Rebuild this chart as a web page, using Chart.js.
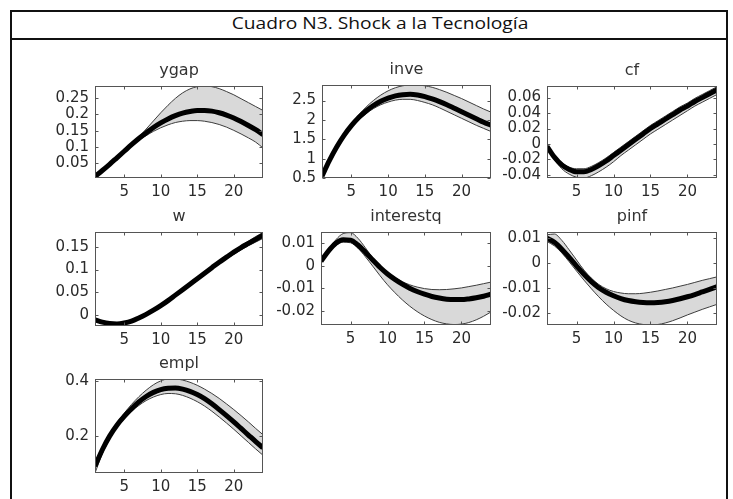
<!DOCTYPE html>
<html>
<head>
<meta charset="utf-8">
<script src="https://cdn.jsdelivr.net/npm/chart.js@4.4.1/dist/chart.umd.min.js"></script>
<style>
  html, body { margin: 0; padding: 0; background: #fff; }
  #page { position: relative; width: 733px; height: 499px; overflow: hidden; background: #fff; }
  #frame { position: absolute; left: 10px; top: 10px; width: 718px; height: 520px; border: 2px solid #111; box-sizing: border-box; }
  #sep { position: absolute; left: 10px; top: 38px; width: 718px; height: 2px; background: #111; }
  #title { position: absolute; left: 380px; top: 12px; height: 26px; line-height: 26px; white-space: nowrap;
           font: 16px "Open Sans"; color: #111; transform: translateX(-50%) scaleX(1.2); }
  canvas { position: absolute; }
</style>
</head>
<body>
<div id="page">
  <div id="frame"></div>
  <div id="sep"></div>
  <div id="title">Cuadro N3. Shock a la Tecnología</div>
</div>
<script>
// horizon
const periods = [1,2,3,4,5,6,7,8,9,10,11,12,13,14,15,16,17,18,19,20,21,22,23,24];
const xTicks = [5, 10, 15, 20];
const xTickLabels = ['5', '10', '15', '20'];

// ygap
const ygapMean = [0.010,0.028,0.047,0.067,0.087,0.107,0.126,0.143,0.160,0.174,0.186,0.196,0.204,0.209,0.212,0.212,0.210,0.205,0.198,0.189,0.178,0.166,0.153,0.138];
const ygapLow  = [0.008,0.027,0.046,0.066,0.085,0.104,0.121,0.135,0.148,0.159,0.168,0.175,0.179,0.181,0.181,0.179,0.175,0.169,0.161,0.151,0.140,0.128,0.115,0.097];
const ygapHigh = [0.010,0.028,0.047,0.067,0.088,0.109,0.131,0.155,0.180,0.205,0.228,0.249,0.266,0.278,0.285,0.287,0.285,0.279,0.270,0.260,0.248,0.236,0.224,0.212];
const ygapTicks = [0.05, 0.1, 0.15, 0.2, 0.25];
const ygapTickLabels = ['0.05', '0.1', '0.15', '0.2', '0.25'];
const ygapRange = [0.005, 0.287];

// inve
const inveMean = [0.55,0.95,1.30,1.60,1.85,2.06,2.23,2.37,2.48,2.56,2.62,2.65,2.66,2.64,2.60,2.54,2.47,2.39,2.30,2.21,2.12,2.03,1.94,1.86];
const inveLow  = [0.50,0.92,1.27,1.56,1.80,2.00,2.16,2.29,2.39,2.46,2.51,2.53,2.53,2.50,2.45,2.39,2.31,2.22,2.13,2.04,1.95,1.86,1.78,1.70];
const inveHigh = [0.56,0.97,1.33,1.64,1.90,2.13,2.33,2.50,2.64,2.75,2.83,2.88,2.90,2.90,2.88,2.84,2.78,2.71,2.63,2.55,2.46,2.37,2.28,2.20];
const inveTicks = [0.5, 1, 1.5, 2, 2.5];
const inveTickLabels = ['0.5', '1', '1.5', '2', '2.5'];
const inveRange = [0.5, 2.9];

// cf
const cfMean = [-0.003,-0.017,-0.027,-0.033,-0.036,-0.036,-0.033,-0.028,-0.022,-0.015,-0.008,-0.001,0.006,0.013,0.020,0.026,0.032,0.038,0.044,0.049,0.055,0.060,0.065,0.070];
const cfLow  = [-0.004,-0.020,-0.032,-0.039,-0.043,-0.044,-0.041,-0.036,-0.030,-0.023,-0.015,-0.008,-0.001,0.006,0.013,0.019,0.025,0.031,0.037,0.043,0.049,0.054,0.059,0.064];
const cfHigh = [-0.002,-0.015,-0.024,-0.030,-0.032,-0.032,-0.029,-0.024,-0.018,-0.011,-0.004,0.003,0.010,0.017,0.024,0.030,0.036,0.042,0.048,0.053,0.059,0.064,0.069,0.074];
const cfTicks = [-0.04, -0.02, 0, 0.02, 0.04, 0.06];
const cfTickLabels = ['-0.04', '-0.02', '0', '0.02', '0.04', '0.06'];
const cfRange = [-0.044, 0.075];

// w
const wMean = [-0.010,-0.015,-0.018,-0.019,-0.017,-0.013,-0.006,0.002,0.011,0.021,0.032,0.044,0.056,0.068,0.080,0.092,0.104,0.116,0.127,0.138,0.148,0.157,0.166,0.175];
const wLow  = [-0.012,-0.017,-0.020,-0.021,-0.019,-0.015,-0.008,0.000,0.009,0.019,0.030,0.042,0.054,0.066,0.078,0.090,0.101,0.112,0.123,0.133,0.143,0.152,0.160,0.168];
const wHigh = [-0.009,-0.014,-0.017,-0.018,-0.016,-0.012,-0.005,0.003,0.012,0.022,0.033,0.045,0.057,0.069,0.081,0.093,0.105,0.117,0.129,0.141,0.152,0.162,0.172,0.181];
const wTicks = [0, 0.05, 0.1, 0.15];
const wTickLabels = ['0', '0.05', '0.1', '0.15'];
const wRange = [-0.0235, 0.182];

// interestq
const interestqMean = [0.0020,0.0065,0.0100,0.0116,0.0114,0.0092,0.0060,0.0025,-0.0008,-0.0037,-0.0061,-0.0082,-0.0100,-0.0115,-0.0127,-0.0137,-0.0144,-0.0149,-0.0151,-0.0151,-0.0148,-0.0143,-0.0136,-0.0127];
const interestqLow  = [0.0018,0.0060,0.0090,0.0105,0.0102,0.0078,0.0040,-0.0002,-0.0045,-0.0085,-0.0120,-0.0152,-0.0180,-0.0204,-0.0224,-0.0240,-0.0252,-0.0259,-0.0262,-0.0260,-0.0253,-0.0241,-0.0225,-0.0206];
const interestqHigh = [0.0020,0.0070,0.0115,0.0143,0.0147,0.0122,0.0080,0.0035,-0.0002,-0.0030,-0.0053,-0.0071,-0.0085,-0.0095,-0.0102,-0.0106,-0.0107,-0.0106,-0.0103,-0.0099,-0.0093,-0.0087,-0.0080,-0.0073];
const interestqTicks = [-0.02, -0.01, 0, 0.01];
const interestqTickLabels = ['-0.02', '-0.01', '0', '0.01'];
const interestqRange = [-0.0264, 0.015];

// pinf
const pinfMean = [0.0098,0.0082,0.0055,0.0022,-0.0012,-0.0045,-0.0074,-0.0098,-0.0116,-0.0130,-0.0141,-0.0149,-0.0154,-0.0157,-0.0158,-0.0157,-0.0154,-0.0149,-0.0142,-0.0134,-0.0125,-0.0115,-0.0105,-0.0094];
const pinfLow  = [0.0085,0.0068,0.0040,0.0005,-0.0032,-0.0068,-0.0102,-0.0134,-0.0163,-0.0188,-0.0210,-0.0227,-0.0238,-0.0244,-0.0246,-0.0244,-0.0238,-0.0229,-0.0218,-0.0206,-0.0195,-0.0184,-0.0174,-0.0164];
const pinfHigh = [0.0112,0.0115,0.0090,0.0052,0.0012,-0.0028,-0.0060,-0.0085,-0.0102,-0.0113,-0.0119,-0.0122,-0.0122,-0.0120,-0.0116,-0.0111,-0.0105,-0.0099,-0.0092,-0.0085,-0.0077,-0.0069,-0.0062,-0.0055];
const pinfTicks = [-0.02, -0.01, 0, 0.01];
const pinfTickLabels = ['-0.02', '-0.01', '0', '0.01'];
const pinfRange = [-0.0246, 0.0123];

// empl
const emplMean = [0.090,0.150,0.200,0.240,0.272,0.300,0.325,0.345,0.360,0.370,0.375,0.376,0.372,0.364,0.352,0.337,0.318,0.297,0.275,0.252,0.228,0.204,0.180,0.157];
const emplLow  = [0.065,0.135,0.190,0.232,0.263,0.290,0.312,0.330,0.343,0.352,0.356,0.355,0.349,0.339,0.326,0.310,0.291,0.270,0.248,0.225,0.201,0.177,0.153,0.130];
const emplHigh = [0.095,0.155,0.205,0.248,0.284,0.316,0.344,0.368,0.388,0.402,0.409,0.409,0.405,0.397,0.386,0.372,0.356,0.338,0.318,0.297,0.275,0.252,0.228,0.205];
const emplTicks = [0.2, 0.4];
const emplTickLabels = ['0.2', '0.4'];
const emplRange = [0.065, 0.409];

const panels = [
  { name: 'ygap', mean: ygapMean, low: ygapLow, high: ygapHigh, ticks: ygapTicks, labels: ygapTickLabels, range: ygapRange },
  { name: 'inve', mean: inveMean, low: inveLow, high: inveHigh, ticks: inveTicks, labels: inveTickLabels, range: inveRange },
  { name: 'cf', mean: cfMean, low: cfLow, high: cfHigh, ticks: cfTicks, labels: cfTickLabels, range: cfRange },
  { name: 'w', mean: wMean, low: wLow, high: wHigh, ticks: wTicks, labels: wTickLabels, range: wRange },
  { name: 'interestq', mean: interestqMean, low: interestqLow, high: interestqHigh, ticks: interestqTicks, labels: interestqTickLabels, range: interestqRange },
  { name: 'pinf', mean: pinfMean, low: pinfLow, high: pinfHigh, ticks: pinfTicks, labels: pinfTickLabels, range: pinfRange },
  { name: 'empl', mean: emplMean, low: emplLow, high: emplHigh, ticks: emplTicks, labels: emplTickLabels, range: emplRange }
];

// plot boxes on the page: left, top, right, bottom
const boxes = [
  [95, 86, 263, 178], [322, 85, 491, 178], [547, 86, 717, 178],
  [95, 232, 263, 326], [321, 232, 491, 325], [547, 232, 717, 325],
  [95, 379, 263, 473]
];

const AXIS_W = 70, AXIS_H = 28, TITLE_H = 30, PAD_R = 10;
const tickFont = { family: 'DejaVu Sans', size: 15 };

// matlab style box with inward ticks on all sides
const axesBox = {
  id: 'axesBox',
  afterDraw(chart) {
    const { ctx, chartArea: a, scales } = chart;
    const l = Math.round(a.left) + 0.5, t = Math.round(a.top) + 0.5;
    const r = Math.round(a.right) - 0.5, b = Math.round(a.bottom) - 0.5;
    ctx.save();
    ctx.strokeStyle = '#555';
    ctx.lineWidth = 1;
    ctx.strokeRect(l, t, r - l, b - t);
    ctx.beginPath();
    scales.x.ticks.forEach(tk => {
      const px = Math.round(scales.x.getPixelForValue(tk.value)) + 0.5;
      ctx.moveTo(px, b); ctx.lineTo(px, b - 3);
      ctx.moveTo(px, t); ctx.lineTo(px, t + 3);
    });
    scales.y.ticks.forEach(tk => {
      const py = Math.round(scales.y.getPixelForValue(tk.value)) + 0.5;
      ctx.moveTo(l, py); ctx.lineTo(l + 3, py);
      ctx.moveTo(r, py); ctx.lineTo(r - 3, py);
    });
    ctx.stroke();
    ctx.restore();
  }
};

const page = document.getElementById('page');
const pts = arr => periods.map((p, i) => ({ x: p, y: arr[i] }));

panels.forEach((p, k) => {
  const [L, T, R, B] = boxes[k];
  const canvas = document.createElement('canvas');
  canvas.width = (R - L) + AXIS_W + PAD_R;
  canvas.height = (B - T) + TITLE_H + AXIS_H;
  canvas.style.left = (L - AXIS_W) + 'px';
  canvas.style.top = (T - TITLE_H) + 'px';
  canvas.style.width = canvas.width + 'px';
  canvas.style.height = canvas.height + 'px';
  page.appendChild(canvas);

  new Chart(canvas, {
    type: 'line',
    data: {
      datasets: [
        { data: pts(p.mean), borderColor: '#000', borderWidth: 5, pointRadius: 0, fill: false, cubicInterpolationMode: 'monotone' },
        { data: pts(p.low), borderColor: '#3c3c3c', borderWidth: 1, pointRadius: 0, fill: false, cubicInterpolationMode: 'monotone' },
        { data: pts(p.high), borderColor: '#3c3c3c', borderWidth: 1, pointRadius: 0, fill: '-1', backgroundColor: '#d9d9d9', cubicInterpolationMode: 'monotone' }
      ]
    },
    options: {
      responsive: false,
      animation: false,
      devicePixelRatio: 1,
      layout: { padding: { right: PAD_R } },
      plugins: {
        legend: { display: false },
        tooltip: { enabled: false },
        title: {
          display: true,
          text: p.name,
          fullSize: false,
          color: '#333',
          font: { family: 'DejaVu Sans', size: 16, weight: 'normal', lineHeight: 1 },
          padding: { top: 7, bottom: 7 }
        }
      },
      scales: {
        x: {
          type: 'linear',
          min: 1,
          max: 24,
          grid: { display: false, drawTicks: false },
          border: { display: false },
          afterBuildTicks: s => { s.ticks = xTicks.map(v => ({ value: v })); },
          afterFit: s => { s.height = AXIS_H; },
          ticks: { autoSkip: false, maxRotation: 0, padding: 5, color: '#2a2a2a', font: tickFont,
                   callback: (v, i) => xTickLabels[i] }
        },
        y: {
          min: p.range[0],
          max: p.range[1],
          grid: { display: false, drawTicks: false },
          border: { display: false },
          afterBuildTicks: s => { s.ticks = p.ticks.map(v => ({ value: v })); },
          afterFit: s => { s.width = AXIS_W; },
          ticks: { autoSkip: false, padding: 6, color: '#2a2a2a', font: tickFont,
                   callback: (v, i) => p.labels[i] }
        }
      }
    },
    plugins: [axesBox]
  });
});
</script>
</body>
</html>
